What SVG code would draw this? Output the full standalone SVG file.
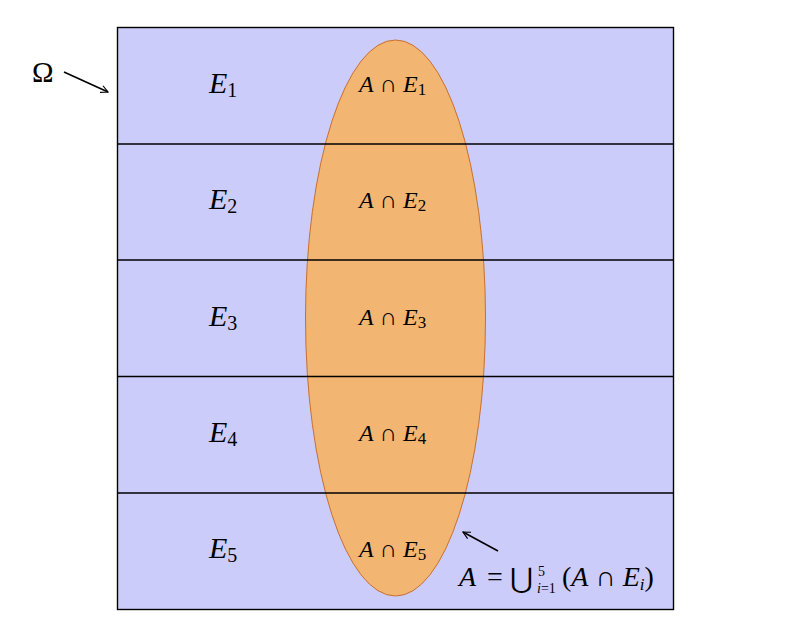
<svg xmlns="http://www.w3.org/2000/svg" width="794" height="644" viewBox="0 0 794 644">
<defs>
<marker id="ah" viewBox="0 0 10 10" refX="9" refY="5" markerWidth="9" markerHeight="9" orient="auto" markerUnits="userSpaceOnUse">
<path d="M1,1 L9,5 L1,9" fill="none" stroke="#000" stroke-width="1.3"/>
</marker>
</defs>
<style>
.m{font-family:"Liberation Serif","DejaVu Serif",serif;fill:#000}
.it{font-style:italic}
.E{font-size:30px}
.sub{font-size:20px;font-style:normal}
.I{font-size:24px}
.isub{font-size:17px;font-style:normal}
.div{stroke:#000;stroke-width:1.6}
</style>
<rect width="794" height="644" fill="#fff"/>
<g id="omega-set">
<rect x="117.5" y="27.5" width="556" height="582" fill="#ccccfa" stroke="#000" stroke-width="1.4"/>
</g>
<g id="set-A">
<ellipse cx="395.5" cy="318" rx="90" ry="278" fill="#f2b572" stroke="#c8702e" stroke-width="1"/>
</g>
<g id="dividers">
<line class="div" x1="117" y1="144" x2="674" y2="144"/>
<line class="div" x1="117" y1="260" x2="674" y2="260"/>
<line class="div" x1="117" y1="376.5" x2="674" y2="376.5"/>
<line class="div" x1="117" y1="493" x2="674" y2="493"/>
</g>
<g id="E1"><text class="m it E" x="209" y="93">E<tspan class="sub" dy="4">1</tspan></text></g>
<g id="E2"><text class="m it E" x="209" y="209">E<tspan class="sub" dy="4">2</tspan></text></g>
<g id="E3"><text class="m it E" x="209" y="326">E<tspan class="sub" dy="4">3</tspan></text></g>
<g id="E4"><text class="m it E" x="209" y="442">E<tspan class="sub" dy="4">4</tspan></text></g>
<g id="E5"><text class="m it E" x="209" y="558">E<tspan class="sub" dy="4">5</tspan></text></g>
<g id="AE1"><text class="m it I" x="359" y="92">A<tspan font-style="normal"> ∩ </tspan>E<tspan class="isub" dy="3">1</tspan></text></g>
<g id="AE2"><text class="m it I" x="359" y="208">A<tspan font-style="normal"> ∩ </tspan>E<tspan class="isub" dy="3">2</tspan></text></g>
<g id="AE3"><text class="m it I" x="359" y="325">A<tspan font-style="normal"> ∩ </tspan>E<tspan class="isub" dy="3">3</tspan></text></g>
<g id="AE4"><text class="m it I" x="359" y="441">A<tspan font-style="normal"> ∩ </tspan>E<tspan class="isub" dy="3">4</tspan></text></g>
<g id="AE5"><text class="m it I" x="359" y="557">A<tspan font-style="normal"> ∩ </tspan>E<tspan class="isub" dy="3">5</tspan></text></g>
<g id="omega-label"><text class="m" x="32" y="82" font-size="29">Ω</text></g>
<g id="formula">
<text class="m it" x="459" y="586" font-size="28">A</text>
<text class="m" x="487" y="586" font-size="28">=</text>
<text class="m" x="510" y="588" font-size="28">⋃</text>
<text class="m" x="538" y="576" font-size="14">5</text>
<text class="m" x="537" y="593" font-size="14"><tspan font-style="italic">i</tspan>=1</text>
<text class="m" x="562" y="586" font-size="28">(<tspan font-style="italic">A</tspan> ∩ <tspan font-style="italic">E</tspan><tspan font-size="17" font-style="italic" dy="4">i</tspan><tspan dy="-4">)</tspan></text>
</g>
<g id="connectors">
<line x1="64" y1="72" x2="108" y2="92" stroke="#000" stroke-width="1.6" marker-end="url(#ah)"/>
<line x1="498" y1="551" x2="463" y2="532" stroke="#000" stroke-width="1.6" marker-end="url(#ah)"/>
</g>
</svg>
